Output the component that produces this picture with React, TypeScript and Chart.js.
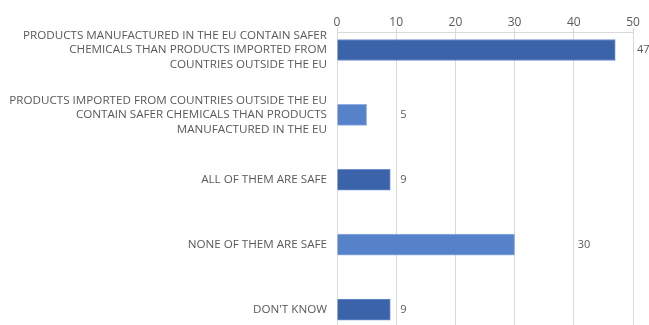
import React, { useEffect, useRef } from "react";
import { Chart, registerables } from "chart.js";

Chart.register(...registerables);

const categories: string[][] = [
  ["PRODUCTS MANUFACTURED IN THE EU CONTAIN SAFER", "CHEMICALS THAN PRODUCTS IMPORTED FROM", "COUNTRIES OUTSIDE THE EU"],
  ["PRODUCTS IMPORTED FROM COUNTRIES OUTSIDE THE EU", "CONTAIN SAFER CHEMICALS THAN PRODUCTS", "MANUFACTURED IN THE EU"],
  ["ALL OF THEM ARE SAFE"],
  ["NONE OF THEM ARE SAFE"],
  ["DON'T KNOW"],
];
const values: number[] = [47, 5, 9, 30, 9];
const xTicks: number[] = [0, 10, 20, 30, 40, 50];

const DARK = "#3A63AA";
const LIGHT = "#5682C9";
const barColors = [DARK, LIGHT, DARK, LIGHT, DARK];
const borderColors = ["#6E8FD0", "#8FAEE6", "#6E8FD0", "#8FAEE6", "#6E8FD0"];
const TEXT = "#595959";
const GRID = "#d9d9d9";
const FONT = "'Open Sans', 'Noto Sans', sans-serif";

const labelPlugin = {
  id: "valueLabels",
  afterDatasetsDraw(chart: any) {
    const ctx = chart.ctx;
    const xScale = chart.scales.x;
    const meta = chart.getDatasetMeta(0);
    ctx.save();
    ctx.font = `11px ${FONT}`;
    ctx.fillStyle = TEXT;
    ctx.textAlign = "left";
    ctx.textBaseline = "middle";
    meta.data.forEach((el: any, i: number) => {
      const v = values[i];
      const step = xTicks[1] - xTicks[0];
      const x = xScale.getPixelForValue((Math.floor(v / step) + 1) * step) + 4;
      ctx.fillText(String(v), x, el.y);
    });
    ctx.restore();
  },
};

export default function App() {
  const ref = useRef<HTMLCanvasElement>(null);
  useEffect(() => {
    document.body.style.margin = "0";
    const chart = new Chart(ref.current!, {
      type: "bar",
      data: {
        datasets: [
          {
            data: values.map((v, i) => ({ x: v, y: i })),
            backgroundColor: barColors,
            borderColor: borderColors,
            borderWidth: 1,
            barThickness: 21,
          },
        ],
      },
      options: {
        indexAxis: "y",
        animation: false,
        responsive: false,
        maintainAspectRatio: false,
        layout: { padding: { left: 0, right: 16, top: 0, bottom: 0 } },
        plugins: { legend: { display: false }, tooltip: { enabled: false } },
        scales: {
          x: {
            type: "linear",
            position: "top",
            min: xTicks[0],
            max: xTicks[xTicks.length - 1],
            afterBuildTicks: (s: any) => {
              s.ticks = xTicks.map((v) => ({ value: v }));
            },
            afterFit: (s: any) => {
              s.height = 32;
            },
            grid: { color: GRID, tickLength: 4, lineWidth: 1 },
            border: { display: true, color: GRID },
            ticks: { color: TEXT, font: { family: FONT, size: 12 }, padding: -2 },
          },
          y: {
            type: "linear",
            reverse: true,
            offset: false,
            min: -0.277,
            max: 4.238,
            afterBuildTicks: (s: any) => {
              s.ticks = categories.map((_, i) => ({ value: i }));
            },
            afterFit: (s: any) => {
              s.width = 337;
              s.paddingTop = 0;
              s.paddingBottom = 0;
            },
            grid: { display: false, drawTicks: false, offset: false },
            border: { display: false },
            ticks: {
              autoSkip: false,
              color: TEXT,
              font: { family: FONT, size: 11.65, lineHeight: 1.23 },
              padding: 10,
              callback: (v: any) => categories[v] ?? "",
            },
          },
        },
      },
      plugins: [labelPlugin],
    });
    return () => chart.destroy();
  }, []);
  return (
    <div style={{ position: "absolute", left: 0, top: 0, width: 649, height: 325 }}>
      <canvas ref={ref} width={649} height={325} style={{ width: 649, height: 325 }} />
    </div>
  );
}
